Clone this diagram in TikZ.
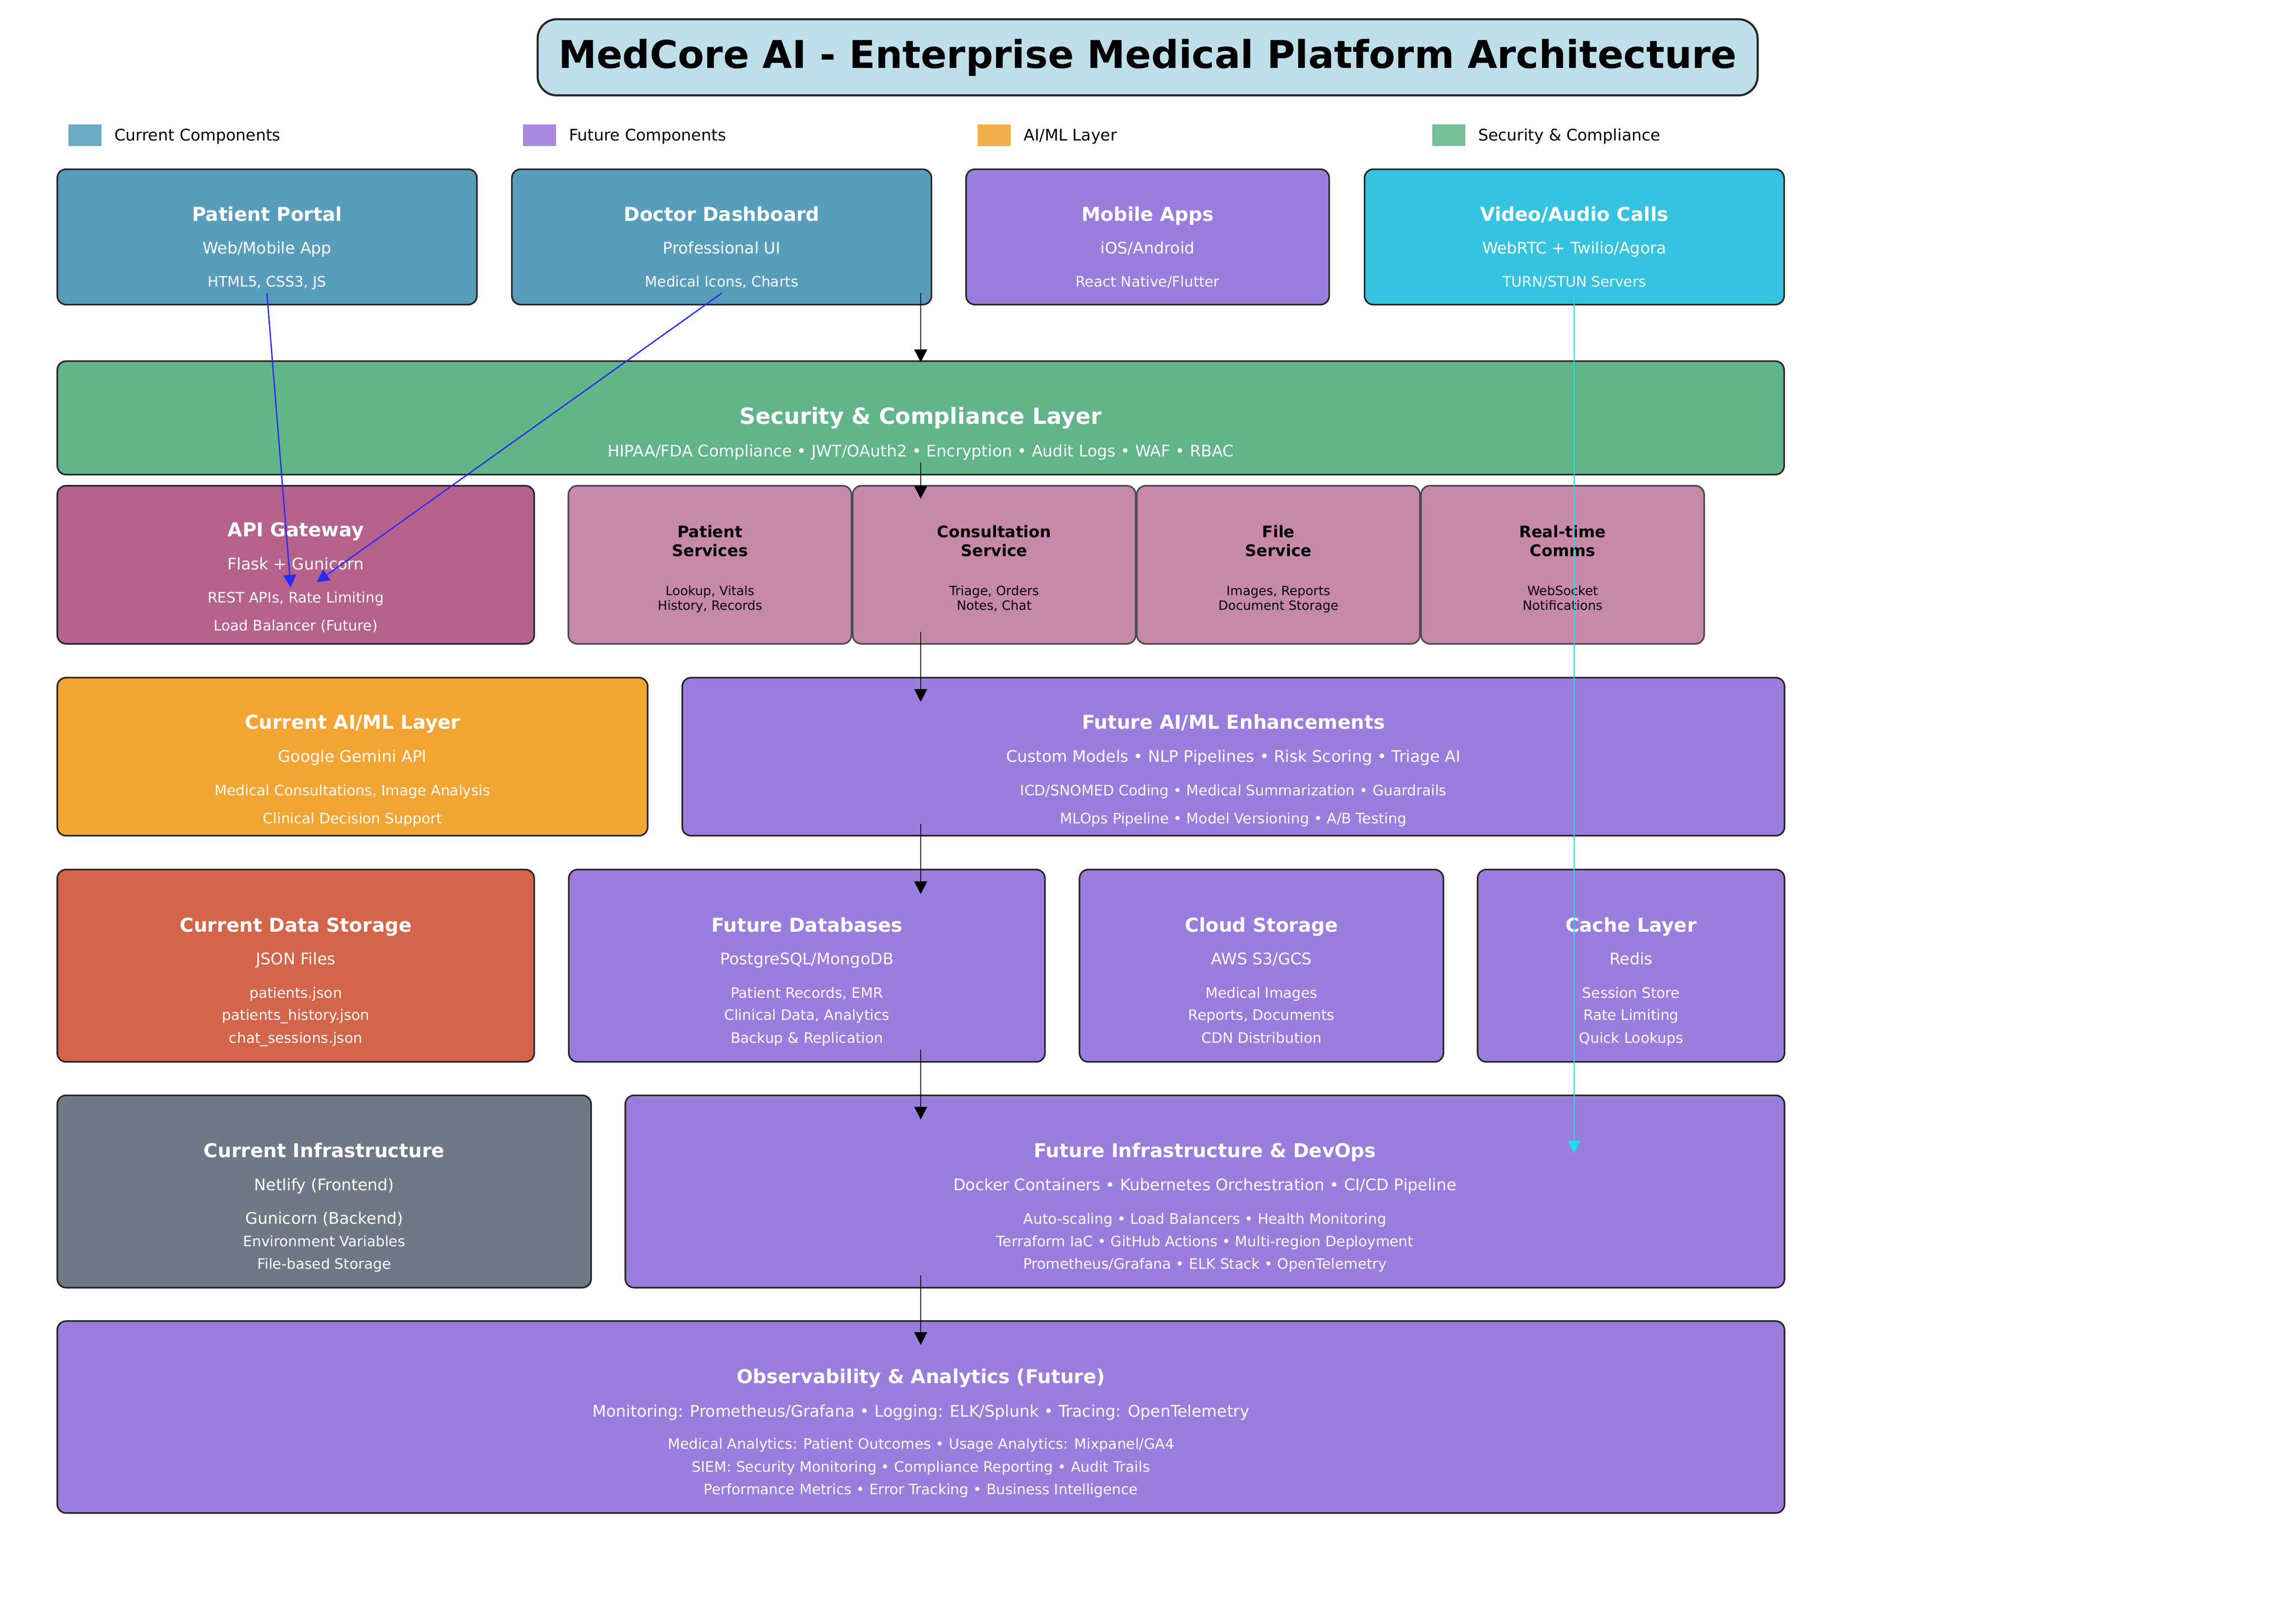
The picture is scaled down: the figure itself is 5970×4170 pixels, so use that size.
\documentclass[tikz,border=0pt]{standalone}
\usepackage{fontspec}
\setmainfont{DejaVu Sans}
\usetikzlibrary{positioning,arrows.meta,fit}

\definecolor{curblue}{HTML}{599DBC}
\definecolor{futpurple}{HTML}{9A7DDC}
\definecolor{callcyan}{HTML}{35C3DF}
\definecolor{secgreen}{HTML}{62B489}
\definecolor{gateway}{HTML}{B5628D}
\definecolor{service}{HTML}{C789AA}
\definecolor{aiorange}{HTML}{F3A534}
\definecolor{datared}{HTML}{D2654A}
\definecolor{infragray}{HTML}{6F7886}
\definecolor{titleblue}{HTML}{BEDFEA}
\definecolor{legblue}{HTML}{6DAAC4}
\definecolor{legpurple}{HTML}{A88BE0}
\definecolor{legorange}{HTML}{F4AF4D}
\definecolor{leggreen}{HTML}{76BF98}
\definecolor{edge}{HTML}{262626}
\definecolor{arrowblue}{HTML}{2A2AF2}
\definecolor{arrowcyan}{HTML}{22DDEE}

\tikzset{
  box/.style={draw=edge, line width=1pt, rounded corners=5.5pt, inner sep=0pt},
  svcbox/.style={box, draw=black!70, fill=service},
  titlebox/.style={draw=edge, line width=1.3pt, rounded corners=12pt, fill=titleblue, inner sep=0pt},
  legsq/.style={inner sep=0pt},
  legtext/.style={anchor=base west, inner sep=0pt, font=\fontsize{10}{12}\selectfont},
  boxhead/.style={anchor=base, inner sep=0pt, text=white, font=\bfseries\fontsize{12}{14}\selectfont},
  boxsub/.style={anchor=base, inner sep=0pt, text=white, font=\fontsize{10}{12}\selectfont},
  boxdet/.style={anchor=base, inner sep=0pt, text=white, font=\fontsize{9}{11}\selectfont},
  svchead/.style={anchor=base, inner sep=0pt, font=\bfseries\fontsize{10}{12}\selectfont},
  svcdet/.style={anchor=base, inner sep=0pt, font=\fontsize{8}{10}\selectfont},
  flow/.style={-{Triangle[length=8pt,width=8pt]}, line width=0.8pt},
}

\begin{document}
\begin{tikzpicture}[x=0.24088pt, y=-0.24088pt]
  \useasboundingbox (0,0) rectangle (5970,4170);

  % title
  \node[titlebox, fit={(1398,50) (4570,248)}] (title) {};
  \node[anchor=base, inner sep=0pt, font=\bfseries\fontsize{24}{28}\selectfont] (title-t) at (title |- 0,177) {MedCore AI - Enterprise Medical Platform Architecture};

  % legend
  \foreach \x/\c/\t [count=\i] in {178/legblue/Current Components, 1360/legpurple/Future Components, 2542/legorange/{AI/ML Layer}, 3724/leggreen/{Security \& Compliance}} {
    \node[legsq, fill=\c, fit={(\x,324) (\x+86,380)}] (leg\i) {};
    \node[legtext] (leg\i-t) at (\x+119,366) {\t};
  }

  % clients
  \node[box, fill=curblue, fit={(149,440) (1240,792)}] (portal) {};
  \node[boxhead] (portal-t) at (portal |- 0,575) {Patient Portal};
  \node[boxsub] (portal-s) at (portal |- 0,660) {Web/Mobile App};
  \node[boxdet] (portal-d) at (portal |- 0,746) {HTML5, CSS3, JS};

  \node[box, fill=curblue, fit={(1331,440) (2422,792)}] (doctor) {};
  \node[boxhead] (doctor-t) at (doctor |- 0,575) {Doctor Dashboard};
  \node[boxsub] (doctor-s) at (doctor |- 0,660) {Professional UI};
  \node[boxdet] (doctor-d) at (doctor |- 0,746) {Medical Icons, Charts};

  \node[box, fill=futpurple, fit={(2512,440) (3456,792)}] (mobile) {};
  \node[boxhead] (mobile-t) at (mobile |- 0,575) {Mobile Apps};
  \node[boxsub] (mobile-s) at (mobile |- 0,660) {iOS/Android};
  \node[boxdet] (mobile-d) at (mobile |- 0,746) {React Native/Flutter};

  \node[box, fill=callcyan, fit={(3548,440) (4639,792)}] (calls) {};
  \node[boxhead] (calls-t) at (calls |- 0,575) {Video/Audio Calls};
  \node[boxsub] (calls-s) at (calls |- 0,660) {WebRTC + Twilio/Agora};
  \node[boxdet] (calls-d) at (calls |- 0,746) {TURN/STUN Servers};

  % security
  \node[box, fill=secgreen, fit={(149,939) (4639,1234)}] (security) {};
  \node[boxhead, font=\bfseries\fontsize{14}{17}\selectfont] (security-t) at (security |- 0,1103) {Security \& Compliance Layer};
  \node[boxsub] (security-s) at (security |- 0,1188) {HIPAA/FDA Compliance • JWT/OAuth2 • Encryption • Audit Logs • WAF • RBAC};

  % gateway and services
  \node[box, fill=gateway, fit={(149,1263) (1389,1674)}] (gateway) {};
  \node[boxhead] (gateway-t) at (gateway |- 0,1395) {API Gateway};
  \node[boxsub] (gateway-s) at (gateway |- 0,1481) {Flask + Gunicorn};
  \node[boxdet] (gateway-d1) at (gateway |- 0,1567) {REST APIs, Rate Limiting};
  \node[boxdet] (gateway-d2) at (gateway |- 0,1640) {Load Balancer (Future)};

  \foreach \n/\cx/\ta/\tb/\da/\db in {patsvc/1846/Patient/Services/{Lookup, Vitals}/{History, Records},
      consult/2585/Consultation/Service/{Triage, Orders}/{Notes, Chat},
      files/3324/File/Service/{Images, Reports}/{Document Storage},
      comms/4063/Real-time/Comms/WebSocket/Notifications} {
    \node[svcbox, fit={(\cx-368,1263) (\cx+368,1674)}] (\n) {};
    \node[svchead] (\n-t1) at (\cx,1398) {\ta};
    \node[svchead] (\n-t2) at (\cx,1447) {\tb};
    \node[svcdet] (\n-d1) at (\cx,1548) {\da};
    \node[svcdet] (\n-d2) at (\cx,1586) {\db};
  }

  % ai/ml
  \node[box, fill=aiorange, fit={(149,1762) (1684,2173)}] (curai) {};
  \node[boxhead] (curai-t) at (curai |- 0,1895) {Current AI/ML Layer};
  \node[boxsub] (curai-s) at (curai |- 0,1981) {Google Gemini API};
  \node[boxdet] (curai-d1) at (curai |- 0,2068) {Medical Consultations, Image Analysis};
  \node[boxdet] (curai-d2) at (curai |- 0,2141) {Clinical Decision Support};

  \node[box, fill=futpurple, fit={(1774,1762) (4640,2173)}] (futai) {};
  \node[boxhead] (futai-t) at (futai |- 0,1895) {Future AI/ML Enhancements};
  \node[boxsub] (futai-s) at (futai |- 0,1981) {Custom Models • NLP Pipelines • Risk Scoring • Triage AI};
  \node[boxdet] (futai-d1) at (futai |- 0,2068) {ICD/SNOMED Coding • Medical Summarization • Guardrails};
  \node[boxdet] (futai-d2) at (futai |- 0,2141) {MLOps Pipeline • Model Versioning • A/B Testing};

  % storage
  \node[box, fill=datared, fit={(149,2261) (1389,2761)}] (curdata) {};
  \node[boxhead] (curdata-t) at (curdata |- 0,2423) {Current Data Storage};
  \node[boxsub] (curdata-s) at (curdata |- 0,2508) {JSON Files};
  \node[boxdet] (curdata-d1) at (curdata |- 0,2595) {patients.json};
  \node[boxdet] (curdata-d2) at (curdata |- 0,2653) {patients\_history.json};
  \node[boxdet] (curdata-d3) at (curdata |- 0,2712) {chat\_sessions.json};

  \node[box, fill=futpurple, fit={(1479,2261) (2717,2761)}] (futdb) {};
  \node[boxhead] (futdb-t) at (futdb |- 0,2423) {Future Databases};
  \node[boxsub] (futdb-s) at (futdb |- 0,2508) {PostgreSQL/MongoDB};
  \node[boxdet] (futdb-d1) at (futdb |- 0,2595) {Patient Records, EMR};
  \node[boxdet] (futdb-d2) at (futdb |- 0,2653) {Clinical Data, Analytics};
  \node[boxdet] (futdb-d3) at (futdb |- 0,2712) {Backup \& Replication};

  \node[box, fill=futpurple, fit={(2807,2261) (3753,2761)}] (cloud) {};
  \node[boxhead] (cloud-t) at (cloud |- 0,2423) {Cloud Storage};
  \node[boxsub] (cloud-s) at (cloud |- 0,2508) {AWS S3/GCS};
  \node[boxdet] (cloud-d1) at (cloud |- 0,2595) {Medical Images};
  \node[boxdet] (cloud-d2) at (cloud |- 0,2653) {Reports, Documents};
  \node[boxdet] (cloud-d3) at (cloud |- 0,2712) {CDN Distribution};

  \node[box, fill=futpurple, fit={(3842,2261) (4640,2761)}] (cache) {};
  \node[boxhead] (cache-t) at (cache |- 0,2423) {Cache Layer};
  \node[boxsub] (cache-s) at (cache |- 0,2508) {Redis};
  \node[boxdet] (cache-d1) at (cache |- 0,2595) {Session Store};
  \node[boxdet] (cache-d2) at (cache |- 0,2653) {Rate Limiting};
  \node[boxdet] (cache-d3) at (cache |- 0,2712) {Quick Lookups};

  % infrastructure
  \node[box, fill=infragray, fit={(149,2848) (1537,3348)}] (curinfra) {};
  \node[boxhead] (curinfra-t) at (curinfra |- 0,3010) {Current Infrastructure};
  \node[boxsub] (curinfra-s1) at (curinfra |- 0,3095) {Netlify (Frontend)};
  \node[boxsub] (curinfra-s2) at (curinfra |- 0,3183) {Gunicorn (Backend)};
  \node[boxdet] (curinfra-d1) at (curinfra |- 0,3241) {Environment Variables};
  \node[boxdet] (curinfra-d2) at (curinfra |- 0,3300) {File-based Storage};

  \node[box, fill=futpurple, fit={(1626,2848) (4640,3348)}] (futinfra) {};
  \node[boxhead] (futinfra-t) at (futinfra |- 0,3010) {Future Infrastructure \& DevOps};
  \node[boxsub] (futinfra-s) at (futinfra |- 0,3095) {Docker Containers • Kubernetes Orchestration • CI/CD Pipeline};
  \node[boxdet] (futinfra-d1) at (futinfra |- 0,3182) {Auto-scaling • Load Balancers • Health Monitoring};
  \node[boxdet] (futinfra-d2) at (futinfra |- 0,3241) {Terraform IaC • GitHub Actions • Multi-region Deployment};
  \node[boxdet] (futinfra-d3) at (futinfra |- 0,3300) {Prometheus/Grafana • ELK Stack • OpenTelemetry};

  % observability
  \node[box, fill=futpurple, fit={(149,3435) (4640,3934)}] (obs) {};
  \node[boxhead] (obs-t) at (obs |- 0,3597) {Observability \& Analytics (Future)};
  \node[boxsub] (obs-s) at (obs |- 0,3684) {Monitoring: Prometheus/Grafana • Logging: ELK/Splunk • Tracing: OpenTelemetry};
  \node[boxdet] (obs-d1) at (obs |- 0,3768) {Medical Analytics: Patient Outcomes • Usage Analytics: Mixpanel/GA4};
  \node[boxdet] (obs-d2) at (obs |- 0,3827) {SIEM: Security Monitoring • Compliance Reporting • Audit Trails};
  \node[boxdet] (obs-d3) at (obs |- 0,3886) {Performance Metrics • Error Tracking • Business Intelligence};

  % main flow
  \foreach \s/\e [count=\i] in {762/942, 1202/1297, 1643/1825, 2142/2325, 2729/2911, 3316/3497} {
    \coordinate (down\i-s) at (2394,\s);
    \coordinate (down\i-e) at (2394,\e);
    \draw[flow] (down\i-s) -- (down\i-e);
  }

  % client links
  \coordinate (portal-out) at (694,762);
  \coordinate (gateway-in1) at (756,1528);
  \coordinate (doctor-out) at (1877,762);
  \coordinate (gateway-in2) at (823,1514);
  \coordinate (calls-out) at (4093,762);
  \coordinate (futinfra-in) at (4093,2999);
  \draw[flow, arrowblue] (portal-out) -- (gateway-in1);
  \draw[flow, arrowblue] (doctor-out) -- (gateway-in2);
  \draw[flow, arrowcyan] (calls-out) -- (futinfra-in);
\end{tikzpicture}
\end{document}
